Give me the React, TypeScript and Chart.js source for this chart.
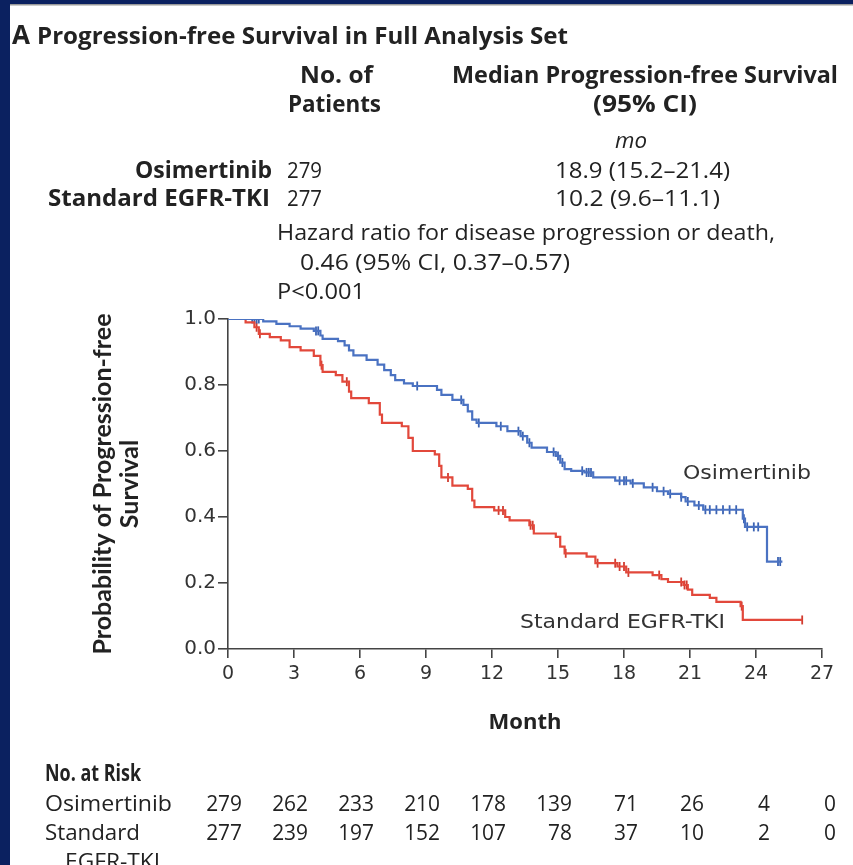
import React, { useEffect, useRef } from 'react';
import { Chart, registerables } from 'chart.js';
Chart.register(...registerables);

// ---------- data ----------
const monthTicks = [0, 3, 6, 9, 12, 15, 18, 21, 24, 27];
const probTicks = [0, 0.2, 0.4, 0.6, 0.8, 1.0];

const osiMonths = [0, 1.6, 2.2, 2.8, 3.3, 3.9, 4.2, 4.3, 5.0, 5.3, 5.5, 5.7, 6.3, 6.8, 7.1, 7.4, 7.6, 8.0, 8.4, 9.5, 9.7, 10.2, 10.7, 10.9, 11.1, 11.3, 12.2, 12.7, 13.3, 13.6, 13.8, 14.5, 14.9, 15.1, 15.3, 15.6, 16.2, 16.6, 17.6, 18.3, 18.9, 19.5, 20.0, 20.6, 20.8, 21.2, 21.6, 23.4, 23.5, 24.5, 25.2];
const osiSurv = [1, 0.993, 0.985, 0.978, 0.971, 0.964, 0.95, 0.94, 0.933, 0.92, 0.905, 0.89, 0.876, 0.862, 0.845, 0.83, 0.815, 0.805, 0.797, 0.785, 0.77, 0.755, 0.74, 0.72, 0.695, 0.685, 0.675, 0.66, 0.645, 0.625, 0.61, 0.597, 0.585, 0.565, 0.545, 0.54, 0.535, 0.52, 0.51, 0.502, 0.49, 0.478, 0.47, 0.46, 0.447, 0.435, 0.422, 0.395, 0.37, 0.265, 0.265];

const stdMonths = [0, 0.8, 1.2, 1.4, 1.9, 2.4, 2.8, 3.3, 3.9, 4.2, 4.3, 4.9, 5.2, 5.5, 5.6, 6.4, 6.9, 7.0, 7.9, 8.2, 8.4, 9.4, 9.6, 9.7, 10.2, 10.9, 11.1, 11.2, 12.1, 12.6, 12.8, 13.7, 13.9, 14.9, 15.1, 15.3, 16.3, 16.7, 17.7, 18.1, 19.3, 19.7, 20.0, 20.7, 20.9, 21.1, 21.9, 22.2, 23.3, 23.4, 26.1];
const stdSurv = [1, 0.99, 0.975, 0.955, 0.945, 0.935, 0.915, 0.905, 0.888, 0.86, 0.84, 0.83, 0.81, 0.78, 0.76, 0.745, 0.71, 0.685, 0.675, 0.64, 0.6, 0.59, 0.555, 0.52, 0.495, 0.485, 0.45, 0.43, 0.42, 0.4, 0.39, 0.375, 0.35, 0.34, 0.31, 0.29, 0.28, 0.26, 0.25, 0.232, 0.224, 0.212, 0.203, 0.194, 0.18, 0.164, 0.155, 0.143, 0.13, 0.088, 0.088];

const osiCensor = [1.1, 1.2, 1.3, 1.4, 4.0, 4.1, 8.6, 10.6, 11.4, 12.4, 13.2, 13.4, 13.7, 14.8, 15.0, 15.2, 16.1, 16.3, 16.4, 16.5, 17.8, 18.0, 18.1, 18.4, 19.3, 19.8, 20.1, 20.6, 20.9, 21.4, 21.7, 21.9, 22.2, 22.5, 22.8, 23.1, 23.45, 23.6, 23.9, 24.1, 25.0, 25.1];
const stdCensor = [1.3, 1.45, 4.25, 5.4, 10.0, 12.3, 12.5, 13.75, 13.85, 15.35, 16.8, 17.6, 17.8, 18.0, 18.2, 19.6, 20.6, 20.75, 20.85, 23.35, 26.1];

const groups = ['Osimertinib', 'Standard EGFR-TKI'];
const nPatients = ['279', '277'];
const medianPFS = ['18.9 (15.2–21.4)', '10.2 (9.6–11.1)'];
const hazardLines = ['Hazard ratio for disease progression or death,', '0.46 (95% CI, 0.37–0.57)', 'P<0.001'];

const riskMonths = [0, 3, 6, 9, 12, 15, 18, 21, 24, 27];
const osiRisk = [279, 262, 233, 210, 178, 139, 71, 26, 4, 0];
const stdRisk = [277, 239, 197, 152, 107, 78, 37, 10, 2, 0];

// ---------- helpers ----------
const BLUE = '#4a72c2';
const BLUE_DARK = '#3b63b3';
const RED = '#e2483b';
const RED_DARK = '#d13c30';
const INK = '#222222';

function survAt(months: number[], surv: number[], t: number) {
  let v = surv[0];
  for (let i = 0; i < months.length; i++) {
    if (months[i] <= t) v = surv[i];
  }
  return v;
}

function fitText(ctx: CanvasRenderingContext2D, text: string, x0: number, x1: number, baseline: number, font: string, color = INK) {
  ctx.save();
  ctx.font = font;
  ctx.fillStyle = color;
  ctx.textBaseline = 'alphabetic';
  ctx.textAlign = 'left';
  const w = ctx.measureText(text).width;
  const sx = (x1 - x0) / w;
  ctx.translate(x0, baseline);
  ctx.scale(sx, 1);
  ctx.fillText(text, 0, 0);
  ctx.restore();
}

function condText(ctx: CanvasRenderingContext2D, text: string, x: number, baseline: number, font: string, align: 'left' | 'right', sx: number, color = INK) {
  ctx.save();
  ctx.font = font;
  ctx.fillStyle = color;
  ctx.textBaseline = 'alphabetic';
  ctx.textAlign = 'left';
  const w = ctx.measureText(text).width * sx;
  ctx.translate(align === 'right' ? x - w : x, baseline);
  ctx.scale(sx, 1);
  ctx.fillText(text, 0, 0);
  ctx.restore();
}

const frame = {
  id: 'frame',
  beforeDraw(chart: any) {
    const ctx = chart.ctx as CanvasRenderingContext2D;
    ctx.save();
    ctx.fillStyle = '#ffffff';
    ctx.fillRect(0, 0, chart.width, chart.height);
    ctx.fillStyle = '#0b2160';
    ctx.fillRect(0, 0, chart.width, 4);
    ctx.fillRect(0, 0, 10, chart.height);
    ctx.fillStyle = '#9a9a9a';
    ctx.fillRect(10, 4, chart.width - 10, 1.5);
    ctx.restore();
  },
};

const texts = {
  id: 'texts',
  afterDraw(chart: any) {
    const ctx = chart.ctx as CanvasRenderingContext2D;
    const B = 'bold 23px "Open Sans"';
    const R = '22px "Open Sans"';
    // header
    fitText(ctx, 'A', 12, 30, 44, 'bold 26px "Open Sans"');
    fitText(ctx, 'Progression-free Survival in Full Analysis Set', 37, 568, 44, B);
    fitText(ctx, 'No. of', 300, 373, 83, B);
    fitText(ctx, 'Patients', 288, 381, 112, B);
    fitText(ctx, 'Median Progression-free Survival', 452, 838, 83, B);
    fitText(ctx, '(95% CI)', 593, 697, 112, B);
    fitText(ctx, 'mo', 615, 647, 148, 'italic 21px "Open Sans"');
    fitText(ctx, groups[0], 135, 272, 178, B);
    fitText(ctx, groups[1], 48, 270, 206, B);
    fitText(ctx, nPatients[0], 287, 322, 178, R);
    fitText(ctx, nPatients[1], 287, 322, 206, R);
    fitText(ctx, medianPFS[0], 555, 730, 178, R);
    fitText(ctx, medianPFS[1], 555, 720, 206, R);
    fitText(ctx, hazardLines[0], 277, 775, 240, R);
    fitText(ctx, hazardLines[1], 300, 570, 270, R);
    fitText(ctx, hazardLines[2], 277, 365, 299, R);

    // curve labels
    fitText(ctx, groups[0], 683, 811, 479, '20px "DejaVu Sans"', '#333');
    fitText(ctx, groups[1], 520, 725, 628, '20px "DejaVu Sans"', '#333');

    // risk table
    const xs = chart.scales.x;
    fitText(ctx, 'No. at Risk', 45, 141, 781, B);
    fitText(ctx, 'Osimertinib', 45, 172, 811, R);
    fitText(ctx, 'Standard', 45, 140, 840, R);
    fitText(ctx, 'EGFR-TKI', 65, 160, 869, R);
    riskMonths.forEach((m, i) => {
      const x = xs.getPixelForValue(m) + 14;
      condText(ctx, String(osiRisk[i]), x, 811, R, 'right', 0.95);
      condText(ctx, String(stdRisk[i]), x, 840, R, 'right', 0.95);
    });
  },
};

function toXY(months: number[], surv: number[]) {
  return months.map((m, i) => ({ x: m, y: surv[i] }));
}

function censorXY(times: number[], months: number[], surv: number[]) {
  return times.map((t) => ({ x: t, y: survAt(months, surv, t) }));
}

export default function App() {
  const ref = useRef<HTMLCanvasElement | null>(null);

  useEffect(() => {
    if (!ref.current) return;
    const chart = new Chart(ref.current, {
      type: 'line',
      data: {
        datasets: [
          {
            label: groups[0],
            data: toXY(osiMonths, osiSurv),
            borderColor: BLUE,
            borderWidth: 2.2,
            stepped: 'before',
            pointRadius: 0,
            fill: false,
          },
          {
            label: groups[1],
            data: toXY(stdMonths, stdSurv),
            borderColor: RED,
            borderWidth: 2.2,
            stepped: 'before',
            pointRadius: 0,
            fill: false,
          },
          {
            label: groups[0] + ' censored',
            data: censorXY(osiCensor, osiMonths, osiSurv),
            showLine: false,
            pointStyle: 'line',
            rotation: 90,
            pointRadius: 4.5,
            borderColor: BLUE_DARK,
            borderWidth: 1.8,
          },
          {
            label: groups[1] + ' censored',
            data: censorXY(stdCensor, stdMonths, stdSurv),
            showLine: false,
            pointStyle: 'line',
            rotation: 90,
            pointRadius: 4.5,
            borderColor: RED_DARK,
            borderWidth: 1.8,
          },
        ] as any,
      },
      options: {
        responsive: false,
        animation: false,
        events: [],
        layout: { padding: { left: 10, right: 31, top: 319, bottom: 116 } },
        plugins: {
          legend: { display: false },
          tooltip: { enabled: false },
          title: { display: false },
        },
        scales: {
          x: {
            type: 'linear',
            min: 0,
            max: 27,
            afterBuildTicks: (s: any) => {
              s.ticks = monthTicks.map((v) => ({ value: v }));
            },
            afterFit: (s: any) => {
              s.height = 100;
            },
            ticks: {
              color: '#333',
              font: { family: 'DejaVu Sans', size: 19 },
              padding: 5,
              maxRotation: 0,
              callback: (v: any) => String(v),
            },
            grid: { drawOnChartArea: false, drawTicks: true, tickLength: 9, color: '#444', lineWidth: 1.6 },
            border: { color: '#444', width: 1.6 },
            title: {
              display: true,
              text: 'Month',
              color: INK,
              font: { family: 'Open Sans', size: 22, weight: 'bold' },
              padding: { top: 0, bottom: 13 },
            },
          },
          y: {
            type: 'linear',
            min: 0,
            max: 1,
            afterBuildTicks: (s: any) => {
              s.ticks = probTicks.map((v) => ({ value: v }));
            },
            afterFit: (s: any) => {
              s.width = 218;
            },
            ticks: {
              color: '#333',
              font: { family: 'DejaVu Sans', size: 20 },
              padding: 2,
              callback: (v: any) => Number(v).toFixed(1),
            },
            grid: { drawOnChartArea: false, drawTicks: true, tickLength: 10, color: '#444', lineWidth: 1.6 },
            border: { color: '#444', width: 1.6 },
            title: {
              display: true,
              text: ['Probability of Progression-free', 'Survival'],
              color: INK,
              font: { family: 'Lato', size: 25, weight: 'bold', lineHeight: 1.1 },
              padding: { top: 79, bottom: 0 },
            },
          },
        },
      } as any,
      plugins: [frame, texts],
    });
    return () => chart.destroy();
  }, []);

  return (
    <div style={{ position: 'fixed', left: 0, top: 0, width: 853, height: 865, background: '#fff' }}>
      <canvas ref={ref} width={853} height={865} style={{ display: 'block' }} />
    </div>
  );
}
